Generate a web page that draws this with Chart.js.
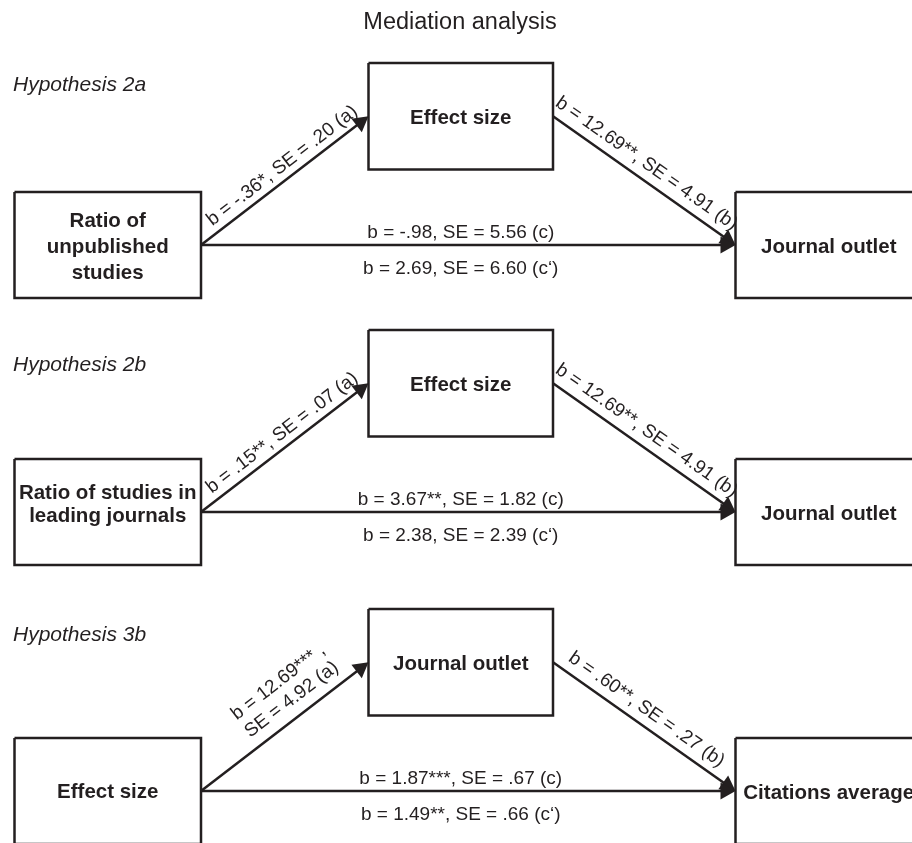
<!DOCTYPE html>
<html><head><meta charset="utf-8">
<script src="https://cdn.jsdelivr.net/npm/chart.js@4.4.1/dist/chart.umd.min.js"></script>
<style>html,body{margin:0;padding:0;background:#fff}#wrap{position:relative;width:912px;height:843px}</style>
</head><body><div id="wrap"><canvas id="c"></canvas></div>
<script>
// ---- content ----
const chartTitle = "Mediation analysis";
const hypotheses = ["Hypothesis 2a", "Hypothesis 2b", "Hypothesis 3b"];
const predictors = [["Ratio of", "unpublished", "studies"], ["Ratio of studies in", "leading journals"], ["Effect size"]];
const mediators = ["Effect size", "Effect size", "Journal outlet"];
const outcomes = ["Journal outlet", "Journal outlet", "Citations average"];
const pathA_b = ["-.36", ".15", "12.69"];
const pathA_sig = ["*", "**", "***"];
const pathA_se = [".20", ".07", "4.92"];
const pathB_b = ["12.69", "12.69", ".60"];
const pathB_sig = ["**", "**", "**"];
const pathB_se = ["4.91", "4.91", ".27"];
const pathC_b = ["-.98", "3.67", "1.87"];
const pathC_sig = ["", "**", "***"];
const pathC_se = ["5.56", "1.82", ".67"];
const pathCp_b = ["2.69", "2.38", "1.49"];
const pathCp_sig = ["", "", "**"];
const pathCp_se = ["6.60", "2.39", ".66"];

// ---- layout (diagram coordinates) ----
const LAYOUT = {
  panelOffset: [0, 267, 546],
  hypY: [91, 371, 641],
  pred: {x0: 14.5, x1: 201, y0: 192, y1: 298},
  med: {x0: 368.5, x1: 553, y0: 63, y1: 169.5},
  out: {x0: 735.5, x1: 922, y0: 192, y1: 298},
  predLine: [26, 22.5, 26],
  predShift: [1, -9, 0],
  arrowLen: 15, arrowHalf: 8.5
};
const INK = "#231f20";
const FAM = "'Liberation Sans', Arial, Helvetica, sans-serif";

function boxPts(b, off) {
  return [{x: b.x0, y: b.y0 + off}, {x: b.x1, y: b.y0 + off}, {x: b.x1, y: b.y1 + off}, {x: b.x0, y: b.y1 + off}, {x: b.x0, y: b.y0 + off}];
}
function panelGeom(i) {
  const off = LAYOUT.panelOffset[i];
  const P = LAYOUT.pred, M = LAYOUT.med, O = LAYOUT.out;
  const ay = (P.y0 + P.y1) / 2 + off;
  const my = (M.y0 + M.y1) / 2 + off;
  return {
    off,
    a: [{x: P.x1, y: ay}, {x: M.x0, y: my}],
    b: [{x: M.x1, y: my}, {x: O.x0, y: ay}],
    c: [{x: P.x1, y: ay}, {x: O.x0, y: ay}]
  };
}
function shorten(seg, d) {
  const [p, q] = seg; const dx = q.x - p.x, dy = q.y - p.y, L = Math.hypot(dx, dy);
  return [p, {x: q.x - dx / L * d, y: q.y - dy / L * d}];
}

const datasets = [];
for (let i = 0; i < 3; i++) {
  const g = panelGeom(i);
  const base = {showLine: true, borderColor: INK, borderWidth: 2.5, pointRadius: 0, fill: false, tension: 0, borderCapStyle: 'butt', borderJoinStyle: 'miter'};
  datasets.push(Object.assign({label: predictors[i].join(' '), data: boxPts(LAYOUT.pred, g.off)}, base));
  datasets.push(Object.assign({label: mediators[i], data: boxPts(LAYOUT.med, g.off)}, base));
  datasets.push(Object.assign({label: outcomes[i], data: boxPts(LAYOUT.out, g.off)}, base));
  ['a', 'b', 'c'].forEach(k => datasets.push(Object.assign({label: 'path ' + k, data: shorten(g[k], LAYOUT.arrowLen * 0.7)}, base)));
}

function fmt(b, sig, se, tag) { return "b = " + b + sig + ", SE = " + se + " (" + tag + ")"; }

const drawPlugin = {
  id: 'diagram',
  afterDatasetsDraw(chart) {
    const ctx = chart.ctx, xs = chart.scales.x, ys = chart.scales.y;
    const px = p => ({x: xs.getPixelForValue(p.x), y: ys.getPixelForValue(p.y)});
    ctx.save();
    ctx.fillStyle = INK;
    // title
    ctx.font = "23.5px " + FAM; ctx.textAlign = 'center'; ctx.textBaseline = 'alphabetic';
    let t = px({x: 460, y: 28.5}); ctx.fillText(chartTitle, t.x, t.y);

    function arrow(seg) {
      const p = px(seg[0]), q = px(seg[1]);
      const dx = q.x - p.x, dy = q.y - p.y, L = Math.hypot(dx, dy), ux = dx / L, uy = dy / L;
      const bx = q.x - ux * LAYOUT.arrowLen, by = q.y - uy * LAYOUT.arrowLen;
      ctx.beginPath(); ctx.moveTo(q.x, q.y);
      ctx.lineTo(bx - uy * LAYOUT.arrowHalf, by + ux * LAYOUT.arrowHalf);
      ctx.lineTo(bx + uy * LAYOUT.arrowHalf, by - ux * LAYOUT.arrowHalf);
      ctx.closePath(); ctx.fill();
    }
    function pathLabel(seg, lines, along, normal, gap) {
      const p = px(seg[0]), q = px(seg[1]);
      const dx = q.x - p.x, dy = q.y - p.y, L = Math.hypot(dx, dy);
      const ang = Math.atan2(dy, dx);
      const cx = (p.x + q.x) / 2 + dx / L * along, cy = (p.y + q.y) / 2 + dy / L * along;
      ctx.save(); ctx.translate(cx, cy); ctx.rotate(ang);
      ctx.font = "19px " + FAM; ctx.textAlign = 'center'; ctx.textBaseline = 'alphabetic';
      const n = lines.length;
      lines.forEach((s, k) => ctx.fillText(s, 0, -normal - (n - 1 - k) * gap));
      ctx.restore();
    }
    function boxText(lines, b, off, lh, shift) {
      ctx.font = "bold 20.5px " + FAM; ctx.textAlign = 'center'; ctx.textBaseline = 'alphabetic';
      const cx = (b.x0 + b.x1) / 2, cy = (b.y0 + b.y1) / 2 + off + shift;
      const n = lines.length;
      lines.forEach((s, k) => {
        const yc = cy + (k - (n - 1) / 2) * lh;
        const p = px({x: cx, y: yc + 7.3});
        ctx.fillText(s, p.x, p.y);
      });
    }

    for (let i = 0; i < 3; i++) {
      const g = panelGeom(i);
      arrow(g.a); arrow(g.b); arrow(g.c);
      // hypothesis label
      ctx.font = "italic 21px " + FAM; ctx.textAlign = 'left'; ctx.textBaseline = 'alphabetic';
      let h = px({x: 13, y: LAYOUT.hypY[i]}); ctx.fillText(hypotheses[i], h.x, h.y);
      // boxes
      boxText(predictors[i], LAYOUT.pred, g.off, LAYOUT.predLine[i], LAYOUT.predShift[i]);
      boxText([mediators[i]], LAYOUT.med, g.off, 0, 0.5);
      boxText([outcomes[i]], LAYOUT.out, g.off, 0, 0.5);
      // path a / b labels
      if (i === 2) {
        pathLabel(g.a, ["b = " + pathA_b[i] + pathA_sig[i] + " ,", "SE = " + pathA_se[i] + " (a)"], 22, 12, 22);
      } else {
        pathLabel(g.a, [fmt(pathA_b[i], pathA_sig[i], pathA_se[i], 'a')], 7, 8, 0);
      }
      pathLabel(g.b, [fmt(pathB_b[i], pathB_sig[i], pathB_se[i], 'b')], -8, 10, 0);
      // c / c' labels
      ctx.font = "19px " + FAM; ctx.textAlign = 'center';
      const mx = (LAYOUT.med.x0 + LAYOUT.med.x1) / 2;
      let c1 = px({x: mx, y: g.c[0].y - 7}); ctx.fillText(fmt(pathC_b[i], pathC_sig[i], pathC_se[i], 'c'), c1.x, c1.y);
      let c2 = px({x: mx, y: g.c[0].y + 28.5}); ctx.fillText(fmt(pathCp_b[i], pathCp_sig[i], pathCp_se[i], 'c\u2018'), c2.x, c2.y);
    }
    ctx.restore();
  }
};

new Chart(document.getElementById('c'), {
  type: 'scatter',
  data: {datasets},
  options: {
    responsive: true, maintainAspectRatio: false, animation: false,
    layout: {padding: 0},
    plugins: {legend: {display: false}, tooltip: {enabled: false}, title: {display: false}},
    scales: {
      x: {type: 'linear', min: 0, max: 912, display: false},
      y: {type: 'linear', min: 0, max: 843, reverse: true, display: false}
    },
    elements: {point: {radius: 0, hoverRadius: 0}}
  },
  plugins: [drawPlugin]
});
</script></body></html>
